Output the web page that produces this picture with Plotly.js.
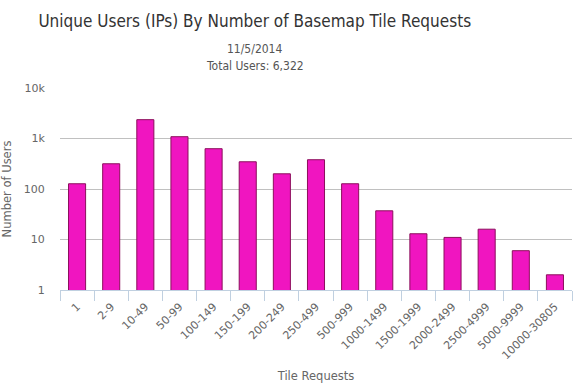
<!DOCTYPE html>
<html>
<head>
<meta charset="utf-8">
<script src="https://cdn.plot.ly/plotly-3.0.1.min.js"></script>
<style>html,body{margin:0;padding:0;background:#fff}#chart{width:583px;height:392px}</style>
</head>
<body>
<div id="chart"></div>
<script>
var categories = ['1','2-9','10-49','50-99','100-149','150-199','200-249','250-499','500-999','1000-1499','1500-1999','2000-2499','2500-4999','5000-9999','10000-30805'];
var users = [127, 316, 2360, 1086, 628, 346, 200, 380, 127, 37, 13, 11, 16, 6, 2];
var yTickVals = [1, 10, 100, 1000, 10000];
var yTickText = ['1', '10', '100', '1k', '10k'];

var font = "'DejaVu Sans', sans-serif";
var condFont = "'DejaVu Sans Condensed','DejaVu Sans', sans-serif";
var trace = {
  type: 'bar',
  x: categories,
  y: users,
  marker: {color: '#f015c0', line: {color: '#8c0f5c', width: 1}},
  hoverinfo: 'x+y'
};
var layout = {
  width: 583, height: 392,
  margin: {l: 60, r: 11, t: 88, b: 102},
  paper_bgcolor: '#fff', plot_bgcolor: '#fff',
  font: {family: font, color: '#666', size: 11},
  showlegend: false,
  bargap: 0.5,
  title: {text: 'Unique Users (IPs) By Number of Basemap Tile Requests', font: {family: condFont, size: 17, color: '#333'}, x: 0.437, xref: 'container', xanchor: 'center', y: 0.947, yref: 'container', yanchor: 'middle'},
  annotations: [
    {text: '11/5/2014', xref: 'paper', yref: 'paper', x: 0.437, y: 49, yanchor: 'middle', xanchor: 'center', showarrow: false, font: {family: condFont, size: 12, color: '#555'}},
    {text: 'Total Users: 6,322', xref: 'paper', yref: 'paper', x: 0.437, y: 66, yanchor: 'middle', xanchor: 'center', showarrow: false, font: {family: condFont, size: 12, color: '#555'}}
  ],
  xaxis: {
    type: 'category',
    tickangle: -45,
    tickson: 'boundaries',
    ticks: 'outside', ticklen: 10, tickcolor: '#C0D0E0', tickwidth: 1,
    ticklabelstandoff: 5,
    showline: true, linecolor: '#C0D0E0', linewidth: 1,
    showgrid: false,
    tickfont: {family: font, size: 11, color: '#666'},
    title: {text: 'Tile Requests', font: {family: font, size: 11.5, color: '#666'}, standoff: 10},
    fixedrange: true
  },
  yaxis: {
    type: 'log',
    range: [0, 4],
    tickvals: yTickVals,
    ticktext: yTickText,
    showgrid: true, gridcolor: '#c0c0c0', gridwidth: 1,
    zeroline: false, showline: false,
    ticks: 'outside', ticklen: 12, tickcolor: 'rgba(0,0,0,0)',
    tickfont: {family: font, size: 11, color: '#666'},
    title: {text: 'Number of Users', font: {family: font, size: 11.5, color: '#666'}, standoff: 10},
    fixedrange: true
  }
};
// convert annotation pixel positions into paper coordinates
var plotH = 392 - 88 - 102;
layout.annotations.forEach(function(a){ a.y = (392 - 102 - a.y) / plotH; a.x = (a.x*583 - 60) / (583 - 60 - 11); });
Plotly.newPlot('chart', [trace], layout, {displayModeBar: false, staticPlot: true});
</script>
</body>
</html>
